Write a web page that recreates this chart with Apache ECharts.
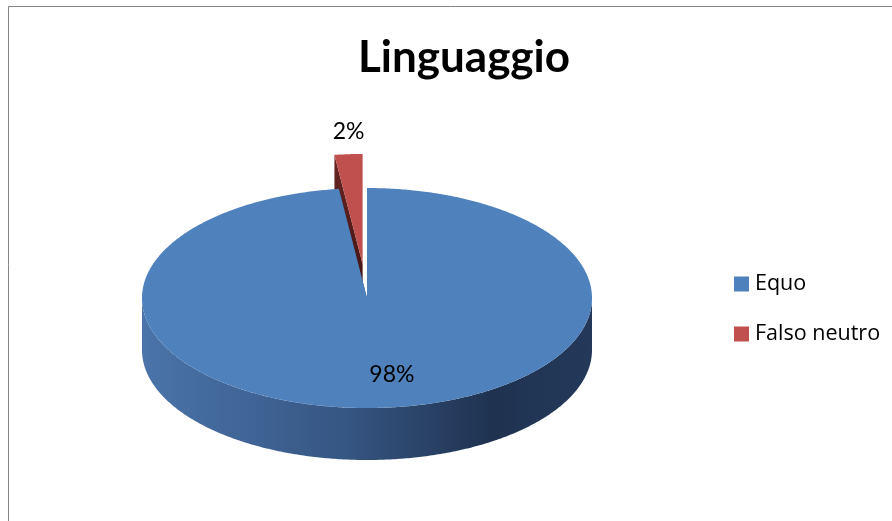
<!DOCTYPE html>
<html>
<head>
<meta charset="utf-8">
<script src="https://cdn.jsdelivr.net/npm/echarts@6/dist/echarts.min.js"></script>
<style>
html,body{margin:0;padding:0;background:#fff;}
#chart{width:892px;height:521px;}
</style>
</head>
<body>
<div id="chart"></div>
<script>
// ---- data ----
const categories = ['Equo', 'Falso neutro'];
const values = [98, 2];
const valueLabels = ['98%', '2%'];
const explodedCategory = 'Falso neutro';

// ---- look ----
const topColors = ['#4f81bd', '#c0504d'];
const FONT = 'Lato, "Open Sans", sans-serif';
const LFONT = '"Open Sans", Lato, sans-serif';
const CX = 367, CY = 298, RX = 225, RY = 110, DEPTH = 52;
const EXPLODE = 0.31;

const total = values.reduce((a, b) => a + b, 0);
const starts = [];
let acc = 0;
values.forEach(v => { starts.push(acc / total * Math.PI * 2); acc += v; });

function pt(cx, cy, th, r, dz) {
  return [cx + RX * r * Math.sin(th), cy - RY * r * Math.cos(th) + (dz || 0)];
}
function arc(cx, cy, a0, a1, dz) {
  const n = Math.max(2, Math.ceil((a1 - a0) / 0.01));
  const out = [];
  for (let i = 0; i <= n; i++) out.push(pt(cx, cy, a0 + (a1 - a0) * i / n, 1, dz));
  return out;
}

const chart = echarts.init(document.getElementById('chart'), null, {renderer: 'canvas'});

function makeRender(idx) {
  return function (params, api) {
    const v = api.value(0);
    const a0 = starts[idx];
    const a1 = a0 + v / total * Math.PI * 2;
    const mid = (a0 + a1) / 2;
    let cx = CX, cy = CY;
    if (categories[idx] === explodedCategory) {
      cx += RX * EXPLODE * Math.sin(mid);
      cy -= RY * EXPLODE * Math.cos(mid);
    }
    const children = [];
    const isRed = idx === 1;
    const sideFill = isRed
      ? new echarts.graphic.LinearGradient(0, 0, 0, 1, [{offset: 0, color: '#6a2523'}, {offset: 1, color: '#3a1110'}])
      : '#2c4668';
    // radial faces
    [a0, a1].forEach(a => {
      const p = pt(cx, cy, a, 1, 0);
      children.push({
        type: 'polygon', z2: 0,
        shape: {points: [[cx, cy], p, [p[0], p[1] + DEPTH], [cx, cy + DEPTH]]},
        style: {fill: sideFill}
      });
    });
    // outer front wall
    const f0 = Math.max(a0, Math.PI / 2), f1 = Math.min(a1, Math.PI * 1.5);
    if (f1 > f0) {
      const top = arc(cx, cy, f0, f1, 0);
      const bot = arc(cx, cy, f0, f1, DEPTH).reverse();
      children.push({
        type: 'polygon', z2: 1,
        shape: {points: top.concat(bot)},
        style: {
          fill: isRed ? '#7d2f2d' : new echarts.graphic.LinearGradient(0, 0, 1, 0, [
            {offset: 0, color: '#4a74aa'},
            {offset: 0.45, color: '#365683'},
            {offset: 0.78, color: '#1f3250'},
            {offset: 1, color: '#24395a'}
          ])
        }
      });
    }
    // top face
    children.push({
      type: 'polygon', z2: 2,
      shape: {points: [[cx, cy]].concat(arc(cx, cy, a0, a1, 0))},
      style: {fill: topColors[idx]}
    });
    // label
    let lp;
    if (isRed) { lp = pt(cx, cy, mid, 1.21, 0); lp[0] += 3; }
    else { lp = pt(cx, cy, mid, 0.7, 0); lp[0] += 15; }
    children.push({
      type: 'text', z2: 3,
      x: lp[0], y: lp[1],
      style: {
        text: valueLabels[idx], fill: '#000', font: '23px ' + FONT,
        align: 'center', verticalAlign: 'middle'
      }
    });
    return {type: 'group', children: children};
  };
}

const series = categories.map((name, i) => ({
  type: 'custom',
  name: name,
  coordinateSystem: 'none',
  z: i === 0 ? 3 : 2,
  itemStyle: {color: topColors[i]},
  data: [[values[i]]],
  renderItem: makeRender(i),
  animation: false,
  silent: true
}));

chart.setOption({
  animation: false,
  title: {
    text: 'Linguaggio',
    left: 459, top: 31, textAlign: 'center',
    textStyle: {fontFamily: FONT, fontWeight: 'bold', fontSize: 44, color: '#000'}
  },
  legend: {
    orient: 'vertical',
    left: 729, top: 268,
    itemWidth: 15, itemHeight: 15, itemGap: 28,
    icon: 'rect',
    selectedMode: false,
    data: categories,
    textStyle: {fontFamily: LFONT, fontSize: 21.5, color: '#000', padding: [0, 0, 0, 1]}
  },
  graphic: [{
    type: 'rect', z: 0,
    shape: {x: 8.5, y: 6.5, width: 900, height: 530},
    style: {fill: 'none', stroke: '#868686', lineWidth: 1}
  }],
  series: series
});
</script>
</body>
</html>
